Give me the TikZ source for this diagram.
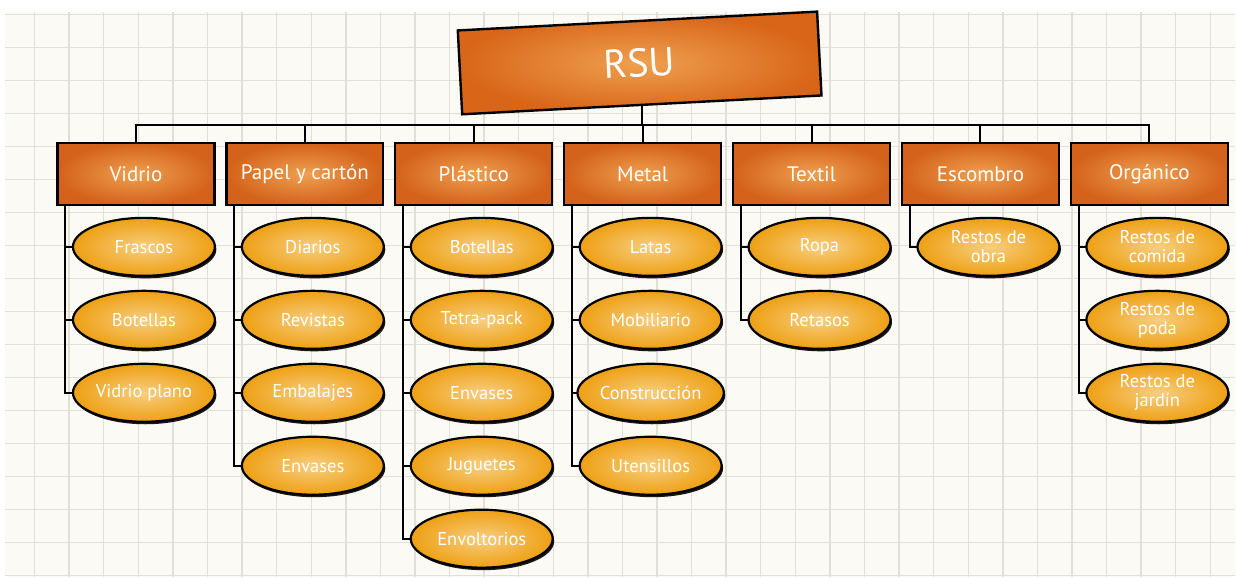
\documentclass[tikz,border=0pt]{standalone}
\usepackage{fontspec}
\setmainfont{PT Sans}
\usetikzlibrary{positioning,shapes.geometric,shadows}

\definecolor{paper}{HTML}{FCFAF5}
\definecolor{gridgrey}{HTML}{E2DED8}
\definecolor{boxdark}{HTML}{D4621B}
\definecolor{boxlight}{HTML}{EFA050}
\definecolor{leafdark}{HTML}{EEA014}
\definecolor{leaflight}{HTML}{F8CE80}

\begin{document}
\begin{tikzpicture}[x=1pt, y=1pt,
    gridline/.style = {draw=gridgrey, line width=1.4pt},
    rootbox/.style = {rectangle, draw=black, line width=2.4pt,
      minimum width=360pt, minimum height=84pt, outer sep=0pt,
      inner color=boxlight, outer color=boxdark!90!orange,
      text=white, font=\fontsize{40}{42}\selectfont},
    catbox/.style = {rectangle, draw=black, line width=2.4pt,
      minimum width=157pt, minimum height=62pt, outer sep=0pt,
      inner color=boxlight, outer color=boxdark,
      text=white, font=\fontsize{21}{23}\selectfont},
    leaf/.style = {ellipse, draw=black, line width=2.2pt,
      minimum width=142pt, minimum height=58pt, outer sep=0pt,
      inner sep=1pt, align=center,
      inner color=leaflight, outer color=leafdark,
      text=white, font=\fontsize{18.5}{19}\selectfont,
      drop shadow={shadow xshift=1.5pt, shadow yshift=-2.5pt,
        fill=black, opacity=0.9}},
    conn/.style = {draw=black, line width=2pt},
    node distance=15pt]

  % squared paper
  \fill[white] (0,0) rectangle (1236,577);
  \fill[paper] (5,0) rectangle (1236,565);
  \foreach \x in {1,...,35}
    \draw[gridline] ({34.6*\x},0) -- ({34.6*\x},565);
  \foreach \y in {0,...,17}
    \draw[gridline] (5,{562.3-33*\y}) -- (1236,{562.3-33*\y});

  % root and categories
  \node[rootbox, rotate=3] (root) at (640,514) {RSU};

  \node[catbox] (vid) at (136,403) {Vidrio};
  \node[catbox, right=12pt of vid] (pap) {Papel y cartón};
  \node[catbox, right=12pt of pap] (pla) {Plástico};
  \node[catbox, right=12pt of pla] (met) {Metal};
  \node[catbox, right=12pt of met] (tex) {Textil};
  \node[catbox, right=12pt of tex] (esc) {Escombro};
  \node[catbox, right=12pt of esc] (org) {Orgánico};

  % leaves
  \node[leaf, below=13pt of vid, xshift=8pt] (vid1) {Frascos};
  \node[leaf, below=of vid1] (vid2) {Botellas};
  \node[leaf, below=of vid2] (vid3) {Vidrio plano};

  \node[leaf, below=13pt of pap, xshift=8pt] (pap1) {Diarios};
  \node[leaf, below=of pap1] (pap2) {Revistas};
  \node[leaf, below=of pap2] (pap3) {Embalajes};
  \node[leaf, below=of pap3] (pap4) {Envases};

  \node[leaf, below=13pt of pla, xshift=8pt] (pla1) {Botellas};
  \node[leaf, below=of pla1] (pla2) {Tetra-pack};
  \node[leaf, below=of pla2] (pla3) {Envases};
  \node[leaf, below=of pla3] (pla4) {Juguetes};
  \node[leaf, below=of pla4] (pla5) {Envoltorios};

  \node[leaf, below=13pt of met, xshift=8pt] (met1) {Latas};
  \node[leaf, below=of met1] (met2) {Mobiliario};
  \node[leaf, below=of met2] (met3) {Construcción};
  \node[leaf, below=of met3] (met4) {Utensillos};

  \node[leaf, below=13pt of tex, xshift=8pt] (tex1) {Ropa};
  \node[leaf, below=of tex1] (tex2) {Retasos};

  \node[leaf, below=13pt of esc, xshift=8pt] (esc1) {Restos de\\obra};

  \node[leaf, below=13pt of org, xshift=8pt] (org1) {Restos de\\comida};
  \node[leaf, below=of org1] (org2) {Restos de\\poda};
  \node[leaf, below=of org2] (org3) {Restos de\\jardín};

  % connectors
  \draw[conn] (root.south) -- ++(0,-20) coordinate (bus);
  \foreach \c in {vid,pap,pla,met,tex,esc,org}
    \draw[conn] (\c.north) |- (bus);

  \foreach \c/\k in {vid/3,pap/4,pla/5,met/4,tex/2,esc/1,org/3} {
    \coordinate (\c top) at ([xshift=8pt]\c.south west);
    \draw[conn] (\c top) |- (\c\k.west);
    \foreach \j in {1,...,\k}
      \draw[conn] (\c top |- \c\j.west) -- (\c\j.west);
  }
\end{tikzpicture}
\end{document}
